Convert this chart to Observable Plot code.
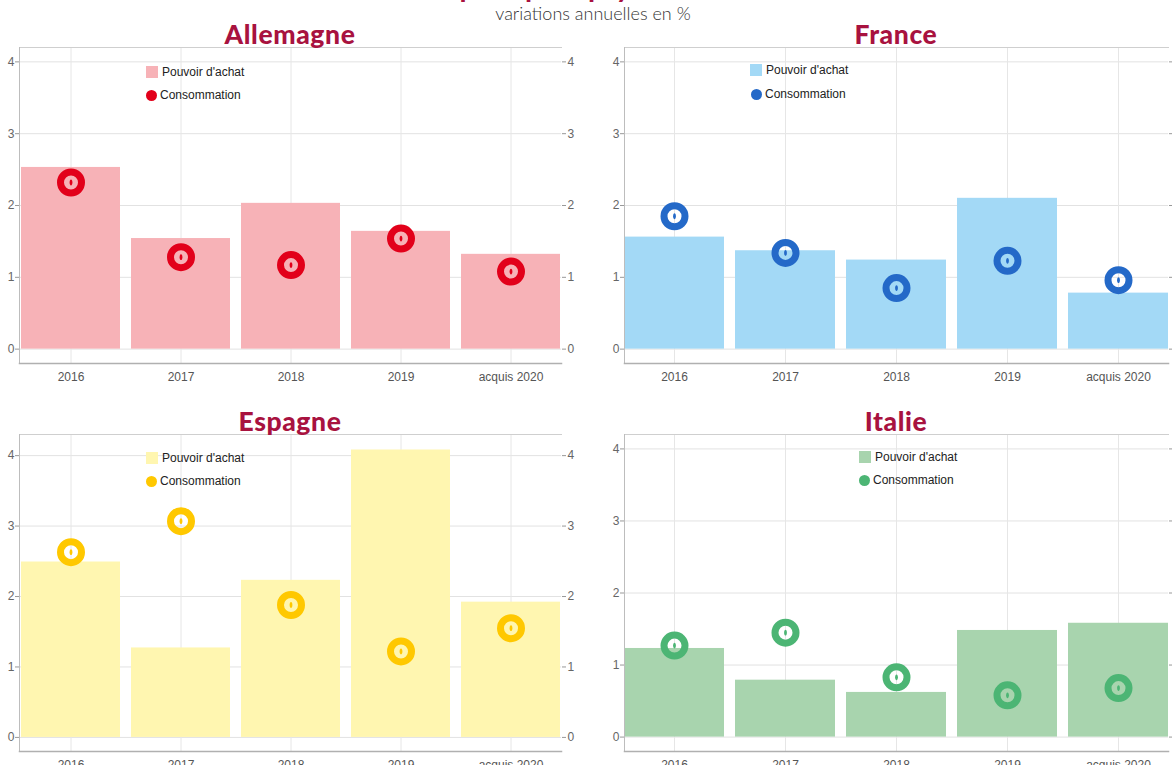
<!DOCTYPE html>
<html>
<head>
<meta charset="utf-8">
<script src="https://cdn.jsdelivr.net/npm/d3@7"></script>
<script src="https://cdn.jsdelivr.net/npm/@observablehq/plot@0.6"></script>
<style>
  html, body { margin: 0; padding: 0; background: #fff; overflow: hidden; }
  #root { position: relative; width: 1172px; height: 765px; overflow: hidden; font-family: "Liberation Sans", Arial, sans-serif; }
  .abs { position: absolute; white-space: nowrap; }
  .ptitle { font-family: Lato, "Open Sans", sans-serif; font-weight: 900; font-size: 26.5px; letter-spacing: 0.6px; line-height: 1; color: #a8123f; text-align: center; }
  .leg { font-size: 12px; color: #222; line-height: 14px; }
  .sw { position: absolute; width: 12px; height: 12px; }
  .cd { position: absolute; width: 11px; height: 11px; border-radius: 50%; }
</style>
</head>
<body>
<div id="root"></div>
<script>
// ---- data ----
const years = ["2016", "2017", "2018", "2019", "acquis 2020"];
const countries = ["Allemagne", "France", "Espagne", "Italie"];

const pouvoirAllemagne = [2.53, 1.54, 2.03, 1.64, 1.32];
const consoAllemagne   = [2.32, 1.28, 1.17, 1.54, 1.08];

const pouvoirFrance = [1.56, 1.37, 1.24, 2.10, 0.78];
const consoFrance   = [1.85, 1.34, 0.85, 1.23, 0.96];

const pouvoirEspagne = [2.49, 1.27, 2.23, 4.08, 1.92];
const consoEspagne   = [2.63, 3.07, 1.88, 1.22, 1.55];

const pouvoirItalie = [1.23, 0.79, 0.62, 1.48, 1.58];
const consoItalie   = [1.27, 1.45, 0.83, 0.58, 0.68];

const yTicks = [0, 1, 2, 3, 4];
const legendLabels = ["Pouvoir d'achat", "Consommation"];

// ---- styles ----
const barColors  = ["#f7b2b7", "#a3d9f6", "#fff6b0", "#a8d4ae"];
const ringColors = ["#e2001a", "#2469c8", "#ffc800", "#4cb574"];

const series = [
  [pouvoirAllemagne, consoAllemagne],
  [pouvoirFrance, consoFrance],
  [pouvoirEspagne, consoEspagne],
  [pouvoirItalie, consoItalie]
];

const yMaxes = [4.2, 4.2, 4.3, 4.2];

// panel layout: [svgLeft, svgTop, height, marginLeft, marginRight]
const layout = [
  [0, 40, 350, 19, 25],
  [586, 40, 350, 38, 4],
  [0, 427, 351, 19, 25],
  [586, 427, 351, 38, 4]
];
// legend positions (absolute) [swatchX, swatchY, circleX, circleY]
const legendPos = [
  [146, 66, 146, 90],
  [750, 64, 751, 89],
  [146, 452, 146, 476],
  [859, 451, 859, 475]
];

const root = document.getElementById("root");

// main title (mostly outside the frame) and subtitle
const title = document.createElement("div");
title.className = "abs";
title.style.cssText = "right:531px; top:-25px; font-family:Lato,sans-serif; font-weight:900; font-size:26px; line-height:1; color:#a8123f;";
title.textContent = "Pouvoir d'achat et consommation des principaux pays";
root.appendChild(title);

const sub = document.createElement("div");
sub.className = "abs";
sub.style.cssText = "left:0; width:1186px; text-align:center; top:4px; font-family:Lato,sans-serif; font-weight:300; font-size:18px; line-height:1; color:#333;";
sub.textContent = "variations annuelles en %";
root.appendChild(sub);

const ellipse = {
  draw(ctx) {
    const rx = 1.4, ry = 2.9, k = 0.5523;
    ctx.moveTo(0, -ry);
    ctx.bezierCurveTo(k * rx, -ry, rx, -k * ry, rx, 0);
    ctx.bezierCurveTo(rx, k * ry, k * rx, ry, 0, ry);
    ctx.bezierCurveTo(-k * rx, ry, -rx, k * ry, -rx, 0);
    ctx.bezierCurveTo(-rx, -k * ry, -k * rx, -ry, 0, -ry);
    ctx.closePath();
  }
};

const fmt = d => String(d);

countries.forEach((name, i) => {
  const [pv, co] = series[i];
  const rows = years.map((year, j) => ({year, pouvoir: pv[j], conso: co[j]}));
  const [left, top, height, mL, mR] = layout[i];
  const W = 586;

  const chart = Plot.plot({
    width: W,
    height,
    marginTop: 7,
    marginBottom: 27,
    marginLeft: mL,
    marginRight: mR,
    style: {fontFamily: "'Liberation Sans', Arial, sans-serif", fontSize: "12px", background: "transparent", overflow: "visible"},
    x: {domain: years, paddingInner: 0.1, paddingOuter: 0, axis: null},
    y: {domain: [-0.2, yMaxes[i]], axis: null},
    marks: [
      Plot.gridY(yTicks, {stroke: "#e2e2e2", strokeOpacity: 1}),
      Plot.gridX({stroke: "#e6e6e6", strokeOpacity: 1}),
      Plot.barY(rows, {x: "year", y: "pouvoir", fill: barColors[i]}),
      Plot.frame({anchor: "top", stroke: "#cfcfcf"}),
      Plot.frame({anchor: "left", stroke: "#bdbdbd"}),
      Plot.frame({anchor: "bottom", stroke: "#b0b0b0", strokeWidth: 1.5}),
      Plot.axisY(yTicks, {anchor: "left", tickSize: 4, tickPadding: 1, tickFormat: fmt, color: "#666", stroke: "#999", label: null}),
      Plot.axisY(yTicks, {anchor: "right", tickSize: 4, tickPadding: 2, tickFormat: fmt, color: "#666", stroke: "#999", label: null}),
      Plot.axisX({tickSize: 0, tickPadding: 9, color: "#555", label: null}),
      Plot.dot(rows, {x: "year", y: "conso", r: 10.5, stroke: ringColors[i], strokeWidth: 7, fill: "none"}),
      Plot.dot(rows, {x: "year", y: "conso", symbol: ellipse, fill: ringColors[i], stroke: "none"})
    ]
  });
  chart.style.position = "absolute";
  chart.style.left = left + "px";
  chart.style.top = top + "px";
  root.appendChild(chart);

  // panel title
  const t = document.createElement("div");
  t.className = "abs ptitle";
  t.style.left = (left + mL) + "px";
  t.style.width = (W - mL - mR) + "px";
  t.style.top = (top - 19) + "px";
  t.textContent = name;
  root.appendChild(t);

  // legend
  const [sx, sy, cx, cy] = legendPos[i];
  const sw = document.createElement("div");
  sw.className = "sw";
  sw.style.left = sx + "px"; sw.style.top = sy + "px"; sw.style.background = barColors[i];
  root.appendChild(sw);
  const l1 = document.createElement("div");
  l1.className = "abs leg";
  l1.style.left = (sx + 16) + "px"; l1.style.top = (sy - 1) + "px";
  l1.textContent = legendLabels[0];
  root.appendChild(l1);
  const cd = document.createElement("div");
  cd.className = "cd";
  cd.style.left = cx + "px"; cd.style.top = cy + "px"; cd.style.background = ringColors[i];
  root.appendChild(cd);
  const l2 = document.createElement("div");
  l2.className = "abs leg";
  l2.style.left = (cx + 14) + "px"; l2.style.top = (cy - 2) + "px";
  l2.textContent = legendLabels[1];
  root.appendChild(l2);
});
</script>
</body>
</html>
